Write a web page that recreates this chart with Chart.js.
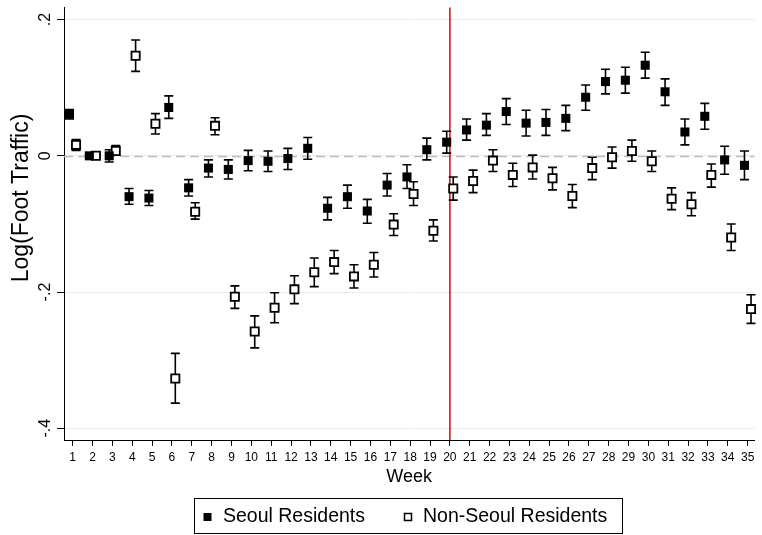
<!DOCTYPE html>
<html>
<head>
<meta charset="utf-8">
<script src="https://cdn.jsdelivr.net/npm/chart.js@4.4.1/dist/chart.umd.min.js"></script>
<style>
  html, body { margin: 0; padding: 0; background: #fff; }
  #wrap { width: 762px; height: 535px; position: relative; }
</style>
</head>
<body>
<div id="wrap"><canvas id="c" width="762" height="535"></canvas></div>
<script>
// Weekly event-study estimates of log foot traffic, with 95% confidence bounds
const weeks = [1,2,3,4,5,6,7,8,9,10,11,12,13,14,15,16,17,18,19,20,21,22,23,24,25,26,27,28,29,30,31,32,33,34,35];

const seoulCoef = [0.061,0.000,0.000,-0.060,-0.062,0.071,-0.047,-0.018,-0.020,-0.007,-0.008,-0.004,0.011,-0.077,-0.060,-0.081,-0.043,-0.031,0.009,0.020,0.038,0.045,0.065,0.048,0.049,0.055,0.086,0.109,0.111,0.133,0.094,0.035,0.058,-0.006,-0.014];
const seoulHi   = [0.068,0.001,0.009,-0.048,-0.051,0.088,-0.035,-0.006,-0.006,0.008,0.007,0.011,0.027,-0.061,-0.043,-0.064,-0.026,-0.013,0.026,0.036,0.054,0.062,0.084,0.067,0.068,0.074,0.104,0.127,0.130,0.152,0.113,0.054,0.077,0.014,0.007];
const seoulLo   = [0.054,-0.001,-0.009,-0.071,-0.073,0.055,-0.059,-0.031,-0.034,-0.022,-0.023,-0.020,-0.005,-0.094,-0.077,-0.099,-0.059,-0.048,-0.006,0.004,0.023,0.030,0.046,0.029,0.030,0.037,0.067,0.091,0.092,0.114,0.074,0.016,0.039,-0.027,-0.035];

const nonSeoulCoef = [0.016,0.000,0.007,0.147,0.047,-0.327,-0.082,0.044,-0.207,-0.258,-0.223,-0.196,-0.171,-0.156,-0.177,-0.160,-0.101,-0.056,-0.110,-0.048,-0.037,-0.007,-0.028,-0.017,-0.033,-0.059,-0.018,-0.002,0.007,-0.008,-0.063,-0.071,-0.028,-0.120,-0.225];
const nonSeoulHi   = [0.024,0.001,0.015,0.170,0.062,-0.290,-0.069,0.056,-0.191,-0.235,-0.201,-0.176,-0.150,-0.139,-0.160,-0.142,-0.085,-0.038,-0.094,-0.031,-0.021,0.009,-0.011,0.001,-0.017,-0.042,-0.002,0.013,0.023,0.007,-0.047,-0.054,-0.012,-0.100,-0.204];
const nonSeoulLo   = [0.008,-0.001,0.001,0.124,0.032,-0.363,-0.093,0.031,-0.224,-0.282,-0.245,-0.217,-0.192,-0.173,-0.194,-0.178,-0.117,-0.073,-0.125,-0.065,-0.054,-0.023,-0.045,-0.034,-0.050,-0.076,-0.035,-0.018,-0.008,-0.023,-0.079,-0.088,-0.046,-0.139,-0.246];

const yTickValues = [0.2, 0, -0.2, -0.4];
const yTickLabels = ['.2', '0', '-.2', '-.4'];
const policyWeek = 20;

const seriesNames = ['Seoul Residents', 'Non-Seoul Residents'];

// small horizontal dodge so the two series don't overlap
const SEOUL_SHIFT = -0.16;
const NONSEOUL_SHIFT = 0.17;

const FONT = "'Liberation Sans', Arial, Helvetica, sans-serif";
Chart.defaults.font.family = FONT;
Chart.defaults.color = '#000';

const seoulPts = weeks.map((w, i) => ({ x: w + SEOUL_SHIFT, y: seoulCoef[i], lo: seoulLo[i], hi: seoulHi[i] }));
const nonSeoulPts = weeks.map((w, i) => ({ x: w + NONSEOUL_SHIFT, y: nonSeoulCoef[i], lo: nonSeoulLo[i], hi: nonSeoulHi[i] }));

const decor = {
  id: 'decor',
  beforeDatasetsDraw(chart) {
    const { ctx, chartArea: a, scales: { x, y } } = chart;
    ctx.save();
    // zero reference line
    const y0 = Math.round(y.getPixelForValue(0)) + 0.5;
    ctx.strokeStyle = '#bdbdbd';
    ctx.lineWidth = 1.6;
    ctx.setLineDash([9, 5]);
    ctx.beginPath();
    ctx.moveTo(a.left, y0);
    ctx.lineTo(a.right, y0);
    ctx.stroke();
    ctx.setLineDash([]);
    // policy week marker
    const xp = x.getPixelForValue(policyWeek);
    ctx.strokeStyle = '#e3121b';
    ctx.lineWidth = 1.6;
    ctx.beginPath();
    ctx.moveTo(xp, a.top);
    ctx.lineTo(xp, a.bottom);
    ctx.stroke();
    // confidence intervals
    ctx.strokeStyle = '#000';
    ctx.lineWidth = 1.6;
    chart.data.datasets.forEach(ds => {
      ds.data.forEach(p => {
        const px = x.getPixelForValue(p.x);
        const pt = y.getPixelForValue(p.hi);
        const pb = y.getPixelForValue(p.lo);
        ctx.beginPath();
        ctx.moveTo(px, pt); ctx.lineTo(px, pb);
        ctx.moveTo(px - 4.5, pt); ctx.lineTo(px + 4.5, pt);
        ctx.moveTo(px - 4.5, pb); ctx.lineTo(px + 4.5, pb);
        ctx.stroke();
      });
    });
    ctx.restore();
  },
  afterDraw(chart) {
    const { ctx, scales: { y } } = chart;
    ctx.save();
    ctx.fillStyle = '#000';
    // rotated y tick labels
    ctx.font = '16px ' + FONT;
    ctx.textAlign = 'center';
    ctx.textBaseline = 'middle';
    yTickValues.forEach((v, i) => {
      ctx.save();
      ctx.translate(46, y.getPixelForValue(v));
      ctx.rotate(-Math.PI / 2);
      ctx.fillText(yTickLabels[i], 0, 0);
      ctx.restore();
    });
    // y axis title
    ctx.save();
    ctx.font = '23px ' + FONT;
    ctx.translate(22, 198);
    ctx.rotate(-Math.PI / 2);
    ctx.fillText('Log(Foot Traffic)', 0, 0);
    ctx.restore();

    // legend
    const bx = 194.5, by = 498.5, bw = 428, bh = 35;
    ctx.strokeStyle = '#000';
    ctx.lineWidth = 1;
    ctx.strokeRect(bx, by, bw, bh);
    const cy = 517;
    ctx.font = '19.5px ' + FONT;
    ctx.textAlign = 'left';
    // filled marker
    ctx.fillRect(203.5, cy - 4, 8, 8);
    ctx.fillText(chart.data.datasets[0].label, 223, cy);
    // hollow marker
    ctx.lineWidth = 1.5;
    ctx.fillStyle = '#fff';
    ctx.fillRect(404.5, cy - 3.5, 7, 7);
    ctx.strokeRect(404.5, cy - 3.5, 7, 7);
    ctx.fillStyle = '#000';
    ctx.fillText(chart.data.datasets[1].label, 423, cy);
    ctx.restore();
  }
};

new Chart(document.getElementById('c'), {
  type: 'scatter',
  data: {
    datasets: [
      {
        label: seriesNames[0],
        data: seoulPts,
        pointStyle: 'rect',
        pointRadius: 6.4,
        pointHoverRadius: 6.4,
        backgroundColor: '#000',
        borderColor: '#000',
        borderWidth: 0,
        clip: false
      },
      {
        label: seriesNames[1],
        data: nonSeoulPts,
        pointStyle: 'rect',
        pointRadius: 5.8,
        pointHoverRadius: 5.8,
        backgroundColor: '#fff',
        borderColor: '#000',
        borderWidth: 1.8,
        clip: false
      }
    ]
  },
  options: {
    responsive: false,
    animation: false,
    events: [],
    layout: { padding: { top: 7, right: 6, left: 0, bottom: 0 } },
    plugins: { legend: { display: false }, tooltip: { enabled: false } },
    scales: {
      x: {
        type: 'linear',
        min: 0.563,
        max: 35.34,
        afterBuildTicks(s) { s.ticks = weeks.map(v => ({ value: v })); },
        afterFit(s) { s.height = 95; },
        ticks: {
          font: { size: 12 },
          color: '#000',
          padding: 4,
          maxRotation: 0,
          minRotation: 0,
          autoSkip: false,
          callback: v => String(v)
        },
        grid: { drawOnChartArea: false, drawTicks: true, tickLength: 6, color: '#000', lineWidth: 1 },
        border: { display: true, color: '#000', width: 1 },
        title: {
          display: true,
          text: 'Week',
          font: { size: 18 },
          color: '#000',
          padding: { top: 0, bottom: 47 }
        }
      },
      y: {
        type: 'linear',
        min: -0.4172,
        max: 0.2176,
        afterBuildTicks(s) { s.ticks = yTickValues.map(v => ({ value: v })); },
        afterFit(s) { s.width = 64; },
        ticks: { display: false },
        grid: { color: '#e6eef0', tickColor: '#000', lineWidth: 1, tickLength: 7, drawTicks: true },
        border: { display: true, color: '#000', width: 1 }
      }
    }
  },
  plugins: [decor]
});
</script>
</body>
</html>
